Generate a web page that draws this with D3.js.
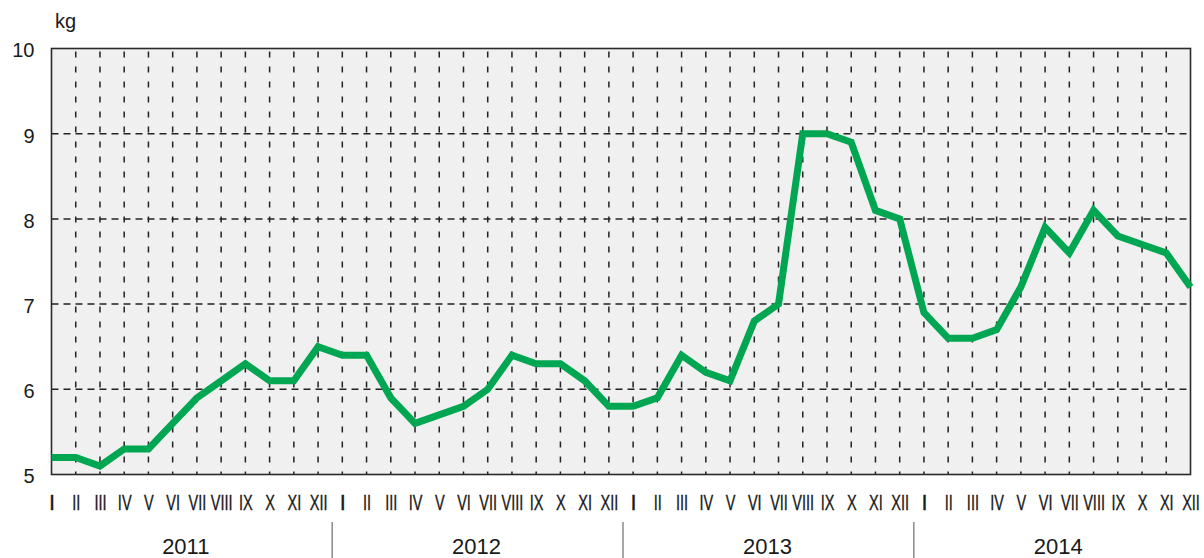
<!DOCTYPE html>
<html>
<head>
<meta charset="utf-8">
<script src="https://cdn.jsdelivr.net/npm/d3@7"></script>
<style>
  html, body { margin: 0; padding: 0; background: #ffffff; }
  svg { display: block; }
  text { font-family: "Liberation Sans", Arial, sans-serif; fill: #1a1a1a; }
</style>
</head>
<body>
<svg id="chart" width="1204" height="558"></svg>
<script>
const years = ["2011", "2012", "2013", "2014"];
const monthLabels = ["I","II","III","IV","V","VI","VII","VIII","IX","X","XI","XII"];
const values2011 = [5.2, 5.2, 5.1, 5.3, 5.3, 5.6, 5.9, 6.1, 6.3, 6.1, 6.1, 6.5];
const values2012 = [6.4, 6.4, 5.9, 5.6, 5.7, 5.8, 6.0, 6.4, 6.3, 6.3, 6.1, 5.8];
const values2013 = [5.8, 5.9, 6.4, 6.2, 6.1, 6.8, 7.0, 9.0, 9.0, 8.9, 8.1, 8.0];
const values2014 = [6.9, 6.6, 6.6, 6.7, 7.2, 7.9, 7.6, 8.1, 7.8, 7.7, 7.6, 7.2];
const yTicks = [5, 6, 7, 8, 9, 10];
const unitLabel = "kg";

const seriesValues = [values2011, values2012, values2013, values2014];
const data = [];
seriesValues.forEach((arr, yi) => arr.forEach((v, mi) => data.push({ i: yi * 12 + mi, mi, m: monthLabels[mi], v })));

const svg = d3.select("#chart");
const pL = 51.5, pR = 1190.5, pT = 48.5, pB = 474.5;

const x = d3.scaleLinear().domain([0, data.length - 1]).range([pL, pR]);
const y = d3.scaleLinear().domain([5, 10]).range([pB, pT]);

// plot background
svg.append("rect")
  .attr("x", pL).attr("y", pT)
  .attr("width", pR - pL).attr("height", pB - pT)
  .attr("fill", "#f0f0f0");

// horizontal gridlines
svg.append("g").selectAll("line")
  .data(yTicks.filter(t => t > 5 && t < 10))
  .join("line")
  .attr("x1", pL).attr("x2", pR)
  .attr("y1", d => y(d)).attr("y2", d => y(d))
  .attr("stroke", "#222").attr("stroke-width", 1.5)
  .attr("stroke-dasharray", "7,5");

// vertical gridlines
svg.append("g").selectAll("line")
  .data(data.filter(d => d.i > 0 && d.i < data.length - 1))
  .join("line")
  .attr("x1", d => x(d.i)).attr("x2", d => x(d.i))
  .attr("y1", pT).attr("y2", pB)
  .attr("stroke", "#222").attr("stroke-width", 1.5)
  .attr("stroke-dasharray", "6,9")
  .attr("stroke-dashoffset", -3);

// border
svg.append("rect")
  .attr("x", pL).attr("y", pT)
  .attr("width", pR - pL).attr("height", pB - pT)
  .attr("fill", "none").attr("stroke", "#2a2a2a").attr("stroke-width", 1.6);

// y axis
const yAxis = svg.append("g")
  .attr("transform", `translate(${pL},0)`)
  .call(d3.axisLeft(y).tickValues(yTicks).tickFormat(d3.format("d")).tickSize(0).tickPadding(17));
yAxis.select(".domain").remove();
yAxis.selectAll("text")
  .attr("font-size", 20)
  .attr("dy", "0.42em")
  .style("font-family", "'Liberation Sans', Arial, sans-serif")
  .attr("fill", "#1a1a1a");

// unit label
svg.append("text")
  .attr("x", 55).attr("y", 28)
  .attr("font-size", 20)
  .text(unitLabel);

// month axis
const xAxis = svg.append("g")
  .attr("transform", `translate(0,${pB})`)
  .call(d3.axisBottom(x)
    .tickValues(data.map(d => d.i))
    .tickFormat(i => data[i].m)
    .tickSize(0));
xAxis.select(".domain").remove();
xAxis.selectAll("text")
  .attr("y", 0)
  .attr("dy", 0)
  .attr("transform", "translate(0,35) scale(0.66,1)")
  .attr("font-size", 22)
  .attr("stroke", "#1a1a1a")
  .attr("stroke-width", 0.35)
  .attr("font-weight", i => data[i].mi === 0 ? "bold" : "normal")
  .style("font-family", "'Liberation Sans', Arial, sans-serif")
  .attr("fill", "#1a1a1a");

// year separators
svg.append("g").selectAll("line")
  .data(years.slice(1))
  .join("line")
  .attr("x1", (d, k) => x((k + 1) * 12 - 0.5) + 2)
  .attr("x2", (d, k) => x((k + 1) * 12 - 0.5) + 2)
  .attr("y1", 522).attr("y2", 558)
  .attr("stroke", "#8a8a8a").attr("stroke-width", 1.5);

// year labels
svg.append("g").selectAll("text")
  .data(years)
  .join("text")
  .attr("x", (d, k) => x(k * 12 + 5.5) + 1)
  .attr("y", 554)
  .attr("text-anchor", "middle")
  .attr("font-size", 22)
  .text(d => d);

// data line
svg.append("path")
  .datum(data)
  .attr("fill", "none")
  .attr("stroke", "#00a651")
  .attr("stroke-width", 7)
  .attr("stroke-linejoin", "miter")
  .attr("d", d3.line().x(d => x(d.i)).y(d => y(d.v)));
</script>
</body>
</html>
